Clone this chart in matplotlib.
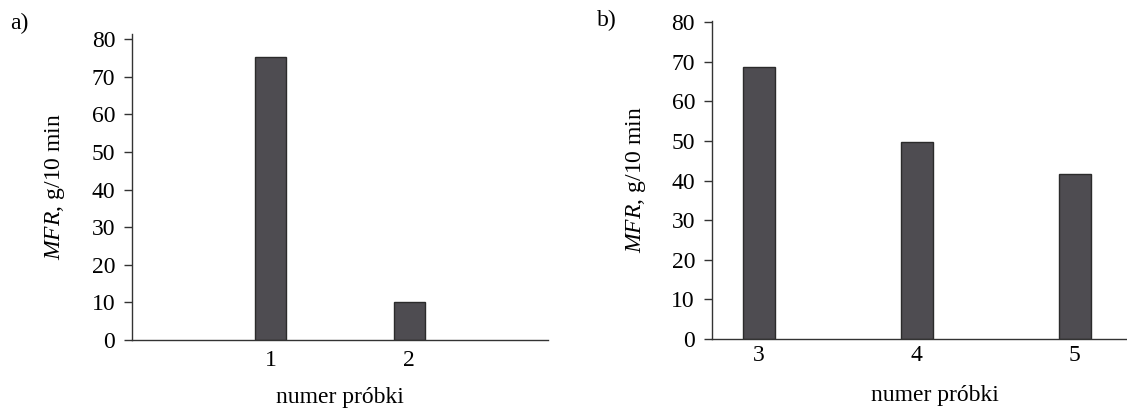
import matplotlib
matplotlib.use("Agg")
import matplotlib.pyplot as plt

plt.rcParams['font.family'] = ['Liberation Serif', 'DejaVu Serif']
plt.rcParams['mathtext.fontset'] = 'custom'
plt.rcParams['mathtext.it'] = 'Liberation Serif:italic'
plt.rcParams['mathtext.rm'] = 'Liberation Serif'

# Data
samples_a = [1, 2]
mfr_a = [75.3, 10.2]
samples_b = [3, 4, 5]
mfr_b = [68.8, 49.7, 41.6]
yticks = [0, 10, 20, 30, 40, 50, 60, 70, 80]
ylabel = r'$\mathit{MFR}$, g/10 min'
xlabel = 'numer próbki'

W, H = 1127, 408
fig = plt.figure(figsize=(W / 100, H / 100), dpi=100)

bar_color = '#4e4c51'
edge_color = '#2b2b2b'
axis_color = '#333333'
fs = 17

def px_axes(x0, y_top, x1, y_bot):
    return fig.add_axes([x0 / W, 1 - y_bot / H, (x1 - x0) / W, (y_bot - y_top) / H])

def style(ax):
    for s in ['top', 'right']:
        ax.spines[s].set_visible(False)
    for s in ['left', 'bottom']:
        ax.spines[s].set_color(axis_color)
        ax.spines[s].set_linewidth(1.0)
    ax.set_yticks(yticks)
    ax.tick_params(axis='y', length=6, width=1.0, color=axis_color, labelsize=fs, pad=6)
    ax.tick_params(axis='x', length=0, labelsize=fs)
    ax.set_ylabel(ylabel, fontsize=fs)
    ax.patch.set_alpha(0)

# Panel a
ax1 = px_axes(132, 34, 548, 340)
ax1.bar(samples_a, mfr_a, width=0.22, color=bar_color, edgecolor=edge_color, linewidth=1.0)
ax1.set_xlim(0, 3)
ax1.set_ylim(0, 81.4)
ax1.set_xticks(samples_a)
style(ax1)
ax1.tick_params(axis='x', pad=7)
ax1.yaxis.set_label_coords(-65 / 416, 0.5)
fig.text(340 / W, 1 - 398 / H, xlabel, ha='center', va='center', fontsize=fs)
fig.text(10 / W, 1 - 23 / H, 'a)', ha='left', va='center', fontsize=fs)

# Panel b
ax2 = px_axes(711.7, 20.7, 1130, 339)
ax2.bar(samples_b, mfr_b, width=0.2, color=bar_color, edgecolor=edge_color, linewidth=1.0)
ax2.set_xlim(2.7, 5.35)
ax2.set_ylim(0, 80.4)
ax2.set_xticks(samples_b)
style(ax2)
ax2.tick_params(axis='x', pad=4)
ax2.yaxis.set_label_coords(-(711.7 - 648) / 418.3, 0.5)
fig.text(935 / W, 1 - 395 / H, xlabel, ha='center', va='center', fontsize=fs)
fig.text(597 / W, 1 - 20 / H, 'b)', ha='left', va='center', fontsize=fs)

fig.savefig('out.png', dpi=100)
